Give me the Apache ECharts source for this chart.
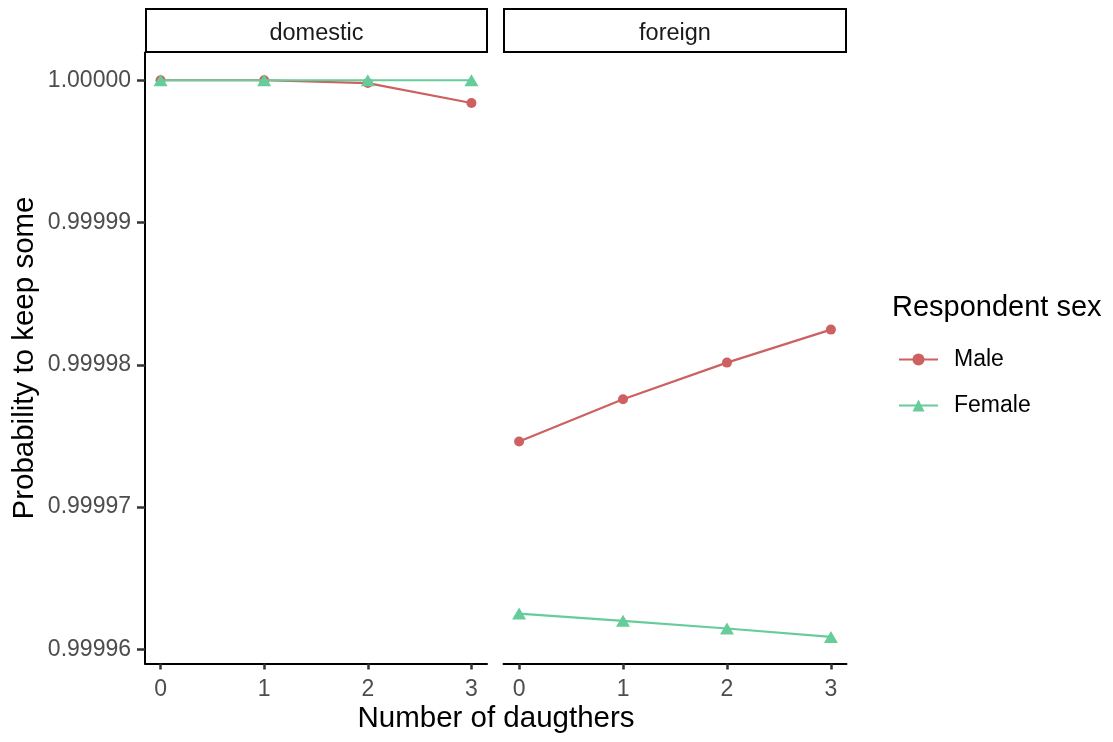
<!DOCTYPE html>
<html>
<head>
<meta charset="utf-8">
<script src="https://cdn.jsdelivr.net/npm/echarts@6/dist/echarts.min.js"></script>
<style>
html,body{margin:0;padding:0;background:#fff;}
#c{width:1113px;height:742px;}
</style>
</head>
<body>
<div id="c"></div>
<script>
// Data
const daughters = [0, 1, 2, 3];
const panels = ['domestic', 'foreign'];
const maleDomestic   = [1.00000000, 1.00000000, 0.99999980, 0.99999840];
const femaleDomestic = [1.00000000, 1.00000000, 1.00000000, 1.00000000];
const maleForeign    = [0.99997460, 0.99997758, 0.99998015, 0.99998247];
const femaleForeign  = [0.99996251, 0.99996200, 0.99996146, 0.99996087];
const yTicks = [0.99996, 0.99997, 0.99998, 0.99999, 1.00000];
const sexes = ['Male', 'Female'];

const colMale = '#CD6060';
const colFemale = '#66CC99';
const FONT = 'Liberation Sans, Arial, sans-serif';

const pairs = (vals) => daughters.map((d, i) => [d, vals[i]]);

const yMin = 0.99995900, yMax = 1.00000195;

const grids = [
  {left: 145, top: 52.5, width: 342, height: 611},
  {left: 503.5, top: 52.5, width: 343, height: 611}
];

function xAxis(gi) {
  return {
    type: 'value', gridIndex: gi, min: -0.15, max: 3.15,
    axisLine: {show: true, onZero: false, lineStyle: {color: '#000', width: 2}},
    axisTick: {show: true, inside: false, customValues: daughters, length: 6, lineStyle: {color: '#333333', width: 2.5}},
    axisLabel: {show: true, customValues: daughters, fontSize: 23, color: '#4D4D4D', fontFamily: FONT, margin: 15},
    splitLine: {show: false}
  };
}
function yAxis(gi, show) {
  return {
    type: 'value', gridIndex: gi, min: yMin, max: yMax,
    axisLine: {show: show, onZero: false, lineStyle: {color: '#000', width: 2}},
    axisTick: {show: show, inside: false, customValues: yTicks, length: 8, lineStyle: {color: '#333333', width: 2.5}},
    axisLabel: {show: show, customValues: yTicks, fontSize: 23, color: '#4D4D4D', fontFamily: FONT, margin: 14,
      formatter: v => v.toFixed(5)},
    splitLine: {show: false}
  };
}
function line(name, data, gi, color, symbol, size) {
  return {
    type: 'line', name: name, xAxisIndex: gi, yAxisIndex: gi, data: pairs(data),
    symbol: symbol, symbolSize: size, showSymbol: true,
    lineStyle: {color: color, width: 2.2}, itemStyle: {color: color},
    animation: false, z: name === 'Female' ? 3 : 2
  };
}

const chart = echarts.init(document.getElementById('c'));
chart.setOption({
  backgroundColor: '#fff',
  animation: false,
  grid: grids,
  xAxis: [xAxis(0), xAxis(1)],
  yAxis: [yAxis(0, true), yAxis(1, false)],
  legend: {
    data: sexes, orient: 'vertical', left: 893, top: 343,
    itemWidth: 39, itemHeight: 15, itemGap: 23,
    textStyle: {fontSize: 23, color: '#000', fontFamily: FONT, padding: [0, 0, 0, 11]}
  },
  series: [
    line('Male', maleDomestic, 0, colMale, 'circle', 10),
    line('Female', femaleDomestic, 0, colFemale, 'triangle', [14, 12]),
    line('Male', maleForeign, 1, colMale, 'circle', 10),
    line('Female', femaleForeign, 1, colFemale, 'triangle', [14, 12])
  ],
  graphic: [
    {type: 'rect', shape: {x: 146, y: 9, width: 341, height: 43}, style: {fill: '#fff', stroke: '#000', lineWidth: 2}},
    {type: 'text', x: 316.5, y: 33.5, style: {text: panels[0], font: '23.5px ' + FONT, fill: '#1a1a1a', align: 'center', verticalAlign: 'middle'}},
    {type: 'rect', shape: {x: 504, y: 9, width: 342, height: 43}, style: {fill: '#fff', stroke: '#000', lineWidth: 2}},
    {type: 'text', x: 675, y: 33.5, style: {text: panels[1], font: '23.5px ' + FONT, fill: '#1a1a1a', align: 'center', verticalAlign: 'middle'}},
    {type: 'text', x: 496, y: 719, style: {text: 'Number of daugthers', font: '29.5px ' + FONT, fill: '#000', align: 'center', verticalAlign: 'middle'}},
    {type: 'text', x: 25, y: 358, rotation: Math.PI / 2, style: {text: 'Probability to keep some', font: '29.5px ' + FONT, fill: '#000', align: 'center', verticalAlign: 'middle'}},
    {type: 'text', x: 892, y: 308, style: {text: 'Respondent sex', font: '29px ' + FONT, fill: '#000', align: 'left', verticalAlign: 'middle'}}
  ]
});
</script>
</body>
</html>
